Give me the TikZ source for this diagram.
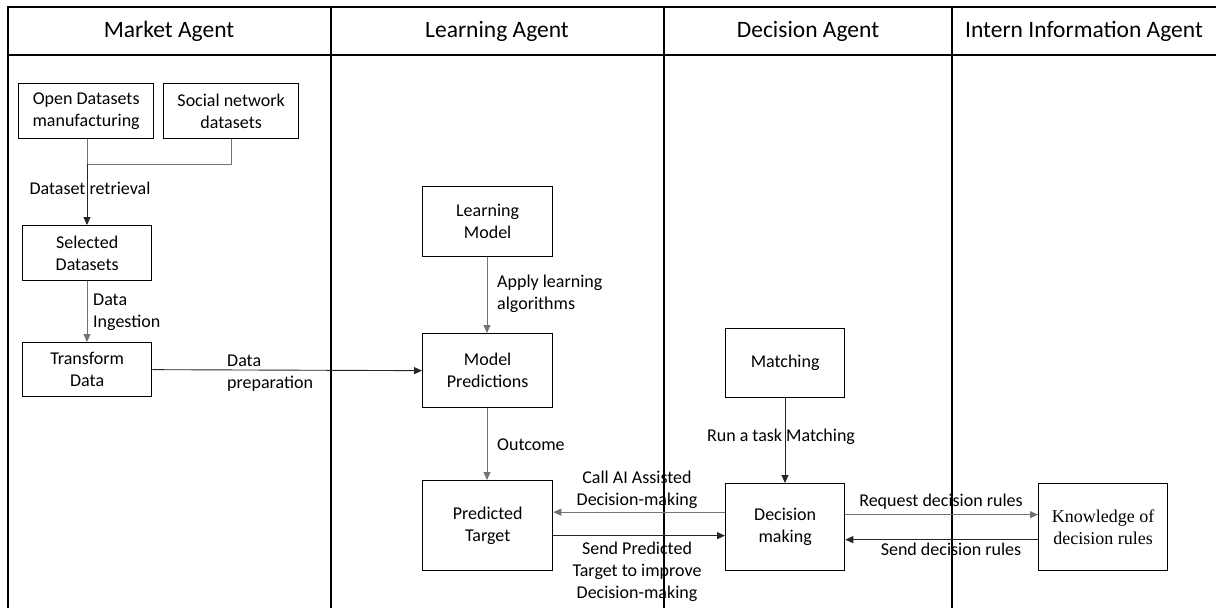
\documentclass[tikz,border=0pt]{standalone}
\usepackage{fontspec}
\setmainfont{Carlito}
\newfontfamily\seriffont{Liberation Serif}
\usetikzlibrary{arrows.meta}
\begin{document}
\begin{tikzpicture}[x=1pt,y=-1pt,
  every node/.style={font=\fontsize{18}{22}\selectfont, inner sep=0pt},
  lane/.style={line width=1.4pt, black},
  boxnode/.style={draw, line width=1.3pt, align=center, anchor=north west},
  hdr/.style={font=\fontsize{23.5}{28}\selectfont},
  lbl/.style={align=center},
  lbll/.style={align=left, anchor=west},
  conn/.style={line width=0.9pt, -{Triangle[length=8pt,width=7pt]}},
  connd/.style={conn, black!85},
  conng/.style={conn, black!55},
  plain/.style={line width=0.9pt, black!55}]
\useasboundingbox (0,0) rectangle (1216,608);
% swimlanes
\draw[lane] (8,608) -- (8,7) -- (1216,7);
\draw[lane] (8,55) -- (1216,55);
\draw[lane] (331,7) -- (331,608);
\draw[lane] (664,7) -- (664,608);
\draw[lane] (952,7) -- (952,608);
\node[hdr] (h1) at (169,31) {Market Agent};
\node[hdr] (h2) at (497,31) {Learning Agent};
\node[hdr] (h3) at (808,31) {Decision Agent};
\node[hdr] (h4) at (1084,31) {Intern Information Agent};
% boxes
\node[boxnode, minimum width=135, minimum height=55] (od) at (18,83) {Open Datasets\\manufacturing};
\node[boxnode, minimum width=135, minimum height=55] (sn) at (163,83) {Social network\\datasets};
\node[boxnode, minimum width=129, minimum height=55] (sd) at (22,225) {Selected\\Datasets};
\node[boxnode, minimum width=129, minimum height=54] (td) at (22,342) {Transform\\Data};
\node[boxnode, minimum width=130, minimum height=70] (lm) at (422,186) {Learning\\Model};
\node[boxnode, minimum width=130, minimum height=74] (mp) at (422,333) {Model\\Predictions};
\node[boxnode, minimum width=130, minimum height=90] (pt) at (422,480) {Predicted\\Target};
\node[boxnode, minimum width=119, minimum height=69] (ma) at (725,328) {Matching};
\node[boxnode, minimum width=119, minimum height=87] (dm) at (725,483) {Decision\\making};
\node[boxnode, minimum width=129, minimum height=87, font=\seriffont\fontsize{18}{22}\selectfont] (kn) at (1038,483) {Knowledge of\\decision rules};
% connectors
\coordinate (j) at (87,164);
\draw[plain] (od.south -| j) -- (j) -- (j -| 231,0) -- (sn.south -| 231,0);
\draw[connd] (j) -- (sd.north -| j);
\node[lbl] (l1) at (90,188) {Dataset retrieval};
\draw[conng] (sd.south -| j) -- (td.north -| j);
\node[lbll] (l2) at (93,312) {Data\\Ingestion};
\draw[connd] (td.east) -- (mp.west);
\node[lbll] (l3) at (227,373) {Data\\preparation};
\draw[conng] (lm.south -| 487,0) -- (mp.north -| 487,0);
\node[lbll] (l4) at (497,294) {Apply learning\\algorithms};
\draw[conng] (mp.south -| 487,0) -- (pt.north -| 487,0);
\node[lbll] (l5) at (497,445) {Outcome};
\draw[connd] (ma.south -| 785,0) -- (dm.north -| 785,0);
\node[lbl] (l6) at (781,437) {Run a task Matching};
\draw[conng] ([yshift=15pt]dm.west) -- ([yshift=15pt]dm.west -| pt.east);
\node[lbl] (l7) at (637,490) {Call AI Assisted\\Decision-making};
\draw[connd] ([yshift=-10pt]pt.east) -- ([yshift=-10pt]pt.east -| dm.west);
\node[lbl] (l8) at (637,572) {Send Predicted\\Target to improve\\Decision-making};
\draw[conng] ([yshift=12.5pt]dm.east) -- ([yshift=12.5pt]dm.east -| kn.west);
\node[lbl] (l9) at (941,502) {Request decision rules};
\draw[connd] ([yshift=-12.5pt]kn.west) -- ([yshift=-12.5pt]kn.west -| dm.east);
\node[lbl] (l10) at (951,549) {Send decision rules};
\end{tikzpicture}
\end{document}
